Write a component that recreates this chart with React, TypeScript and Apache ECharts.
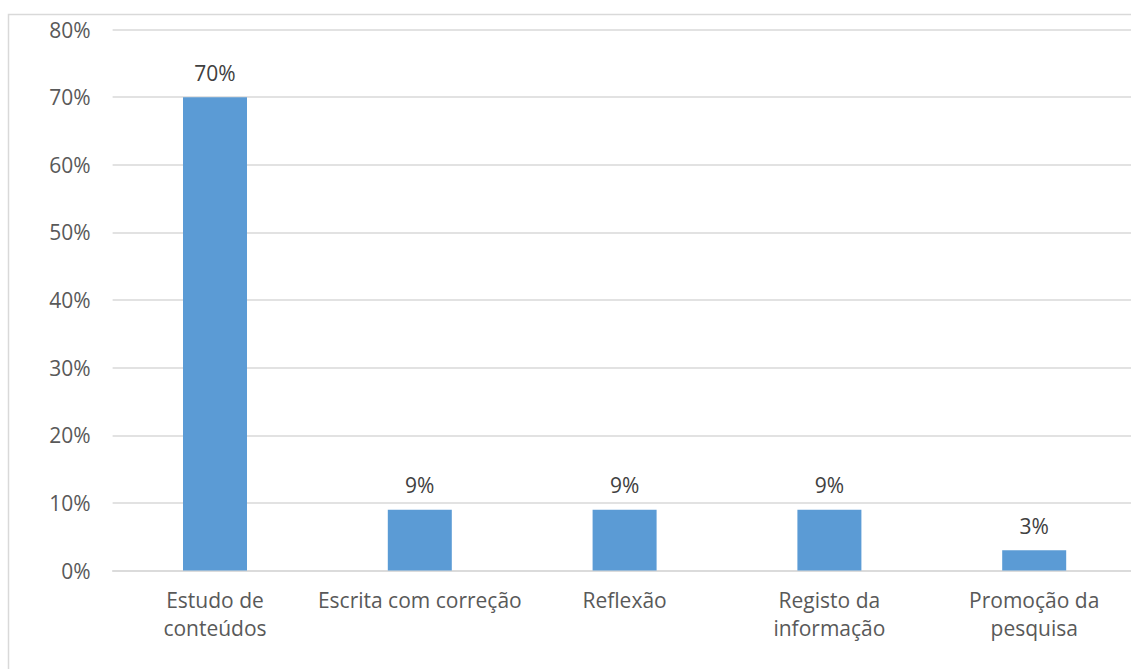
import React, { useEffect, useRef } from "react";
import * as echarts from "echarts";

const categories = [
  "Estudo de\nconteúdos",
  "Escrita com correção",
  "Reflexão",
  "Registo da\ninformação",
  "Promoção da\npesquisa",
];
const values = [70, 9, 9, 9, 3];
const yMin = 0;
const yMax = 80;
const yInterval = 10;

const TEXT = "#595959";
const GRID = "#D9D9D9";
const BAR = "#5B9BD5";
const FONT = "'Open Sans', 'Liberation Sans', sans-serif";
const FS = 21;

export default function App() {
  const ref = useRef<HTMLDivElement>(null);
  useEffect(() => {
    if (!ref.current) return;
    const chart = echarts.init(ref.current, null, { renderer: "svg" });
    chart.setOption({
      animation: false,
      backgroundColor: "#ffffff",
      graphic: [
        {
          type: "rect",
          shape: { x: 8.5, y: 14.5, width: 1140, height: 700 },
          style: { fill: "none", stroke: GRID, lineWidth: 1.5 },
          silent: true,
        },
      ],
      grid: { left: 112.6, right: 13.4, top: 29.5, bottom: 98.5, containLabel: false },
      xAxis: {
        type: "category",
        data: categories,
        axisLine: { show: true, lineStyle: { color: GRID, width: 1.5 } },
        axisTick: { show: false },
        axisLabel: {
          color: TEXT,
          fontSize: FS,
          fontFamily: FONT,
          lineHeight: 28,
          margin: 15,
          interval: 0,
        },
      },
      yAxis: {
        type: "value",
        min: yMin,
        max: yMax,
        interval: yInterval,
        axisLine: { show: false },
        axisTick: { show: false },
        splitLine: { lineStyle: { color: GRID, width: 1.5 } },
        axisLabel: {
          color: TEXT,
          fontSize: FS,
          fontFamily: FONT,
          margin: 22,
          formatter: (v: number) => `${v}%`,
        },
      },
      series: [
        {
          type: "bar",
          data: values,
          barWidth: 64,
          itemStyle: { color: BAR },
          label: {
            show: true,
            position: "top",
            distance: 14,
            color: "#404040",
            fontSize: FS,
            fontFamily: FONT,
            formatter: (p: any) => `${p.value}%`,
          },
        },
      ],
    });
    return () => chart.dispose();
  }, []);
  return (
    <div style={{ position: "fixed", left: 0, top: 0, width: 1131, height: 669, overflow: "hidden", background: "#fff" }}>
      <div ref={ref} style={{ width: 1150, height: 669 }} />
    </div>
  );
}
